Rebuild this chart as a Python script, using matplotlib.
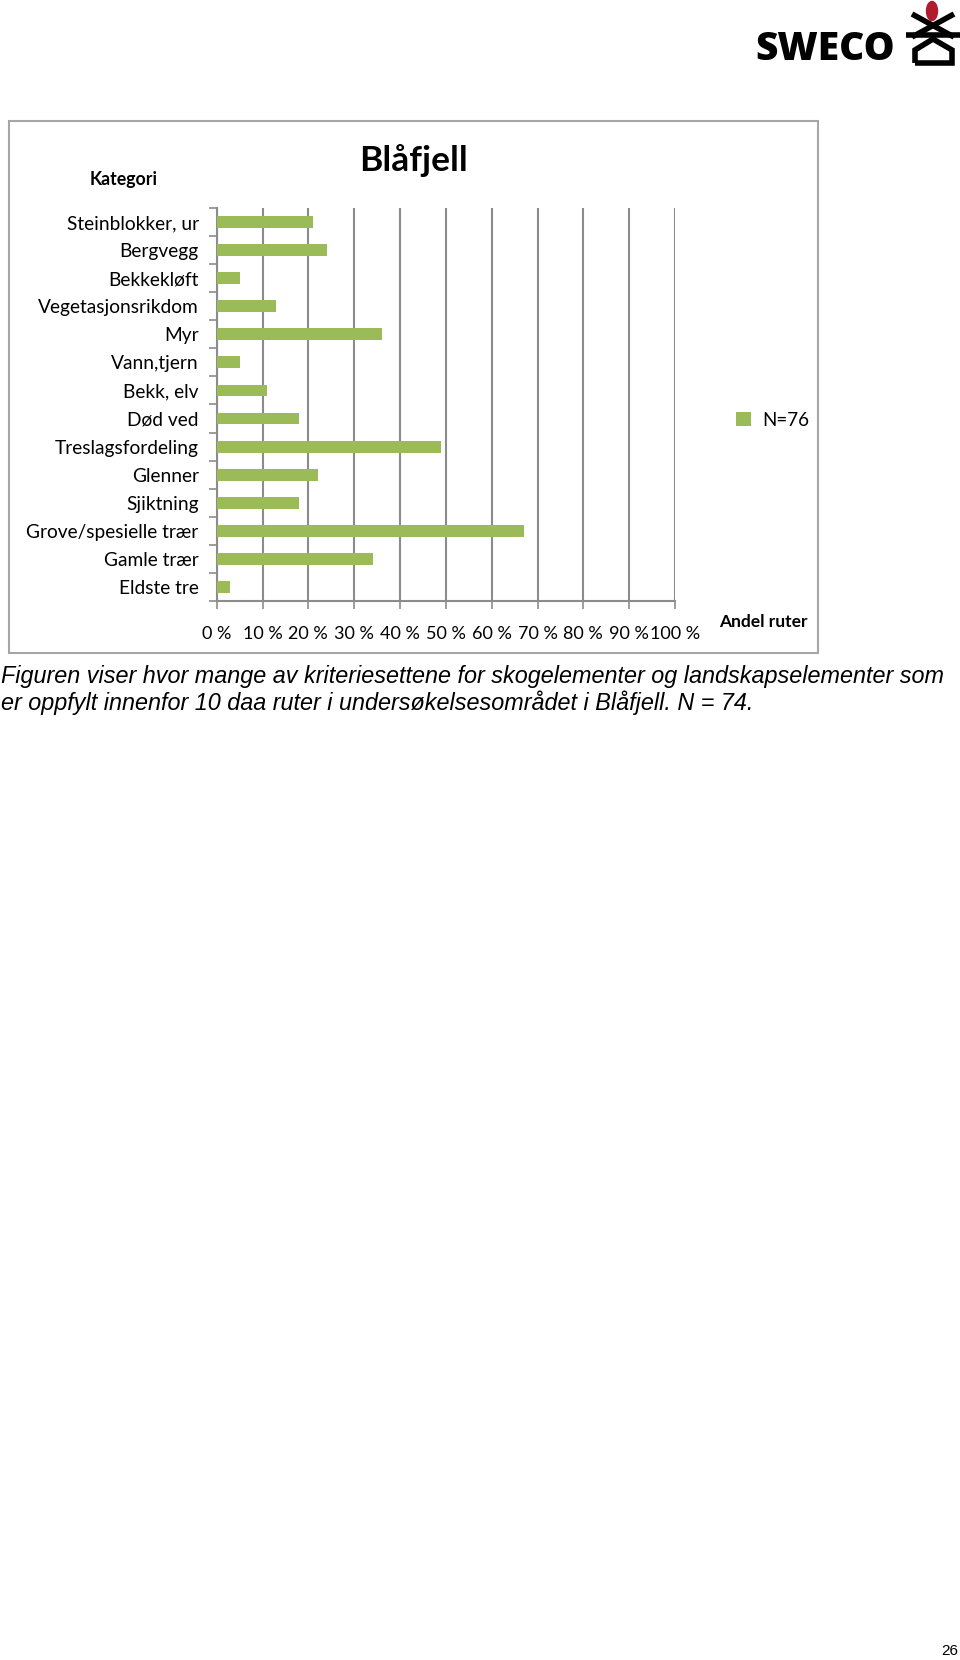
import matplotlib
matplotlib.use("Agg")
import matplotlib.pyplot as plt
from matplotlib.patches import Rectangle, Circle
from matplotlib.lines import Line2D

# data (share of 10 daa squares, %)
categories = ['Steinblokker, ur', 'Bergvegg', 'Bekkekløft', 'Vegetasjonsrikdom',
              'Myr', 'Vann,tjern', 'Bekk, elv', 'Død ved', 'Treslagsfordeling',
              'Glenner', 'Sjiktning', 'Grove/spesielle trær', 'Gamle trær', 'Eldste tre']
values = [21, 24, 5, 13, 36, 5, 11, 18, 49, 22, 18, 67, 34, 3]
xticks = [0, 10, 20, 30, 40, 50, 60, 70, 80, 90, 100]
xlabels = ['0 %', '10 %', '20 %', '30 %', '40 %', '50 %', '60 %', '70 %', '80 %', '90 %', '100 %']
series_label = 'N=76'

W, H = 960, 1660
GREEN = '#9BBB59'
GREY = '#8C8C8C'
UI = ['Lato', 'DejaVu Sans']


def fx(x):
    return x / W


def fy(y):
    return 1 - y / H


fig = plt.figure(figsize=(W / 100, H / 100), dpi=100)

# chart frame
fig.patches.append(Rectangle((fx(8.5), fy(653)), fx(818 - 8.5), (653 - 121) / H,
                             transform=fig.transFigure, fill=False,
                             edgecolor='#A6A6A6', linewidth=1.5))

ax = fig.add_axes([fx(216.7), fy(601), fx(675 - 216.7), (601 - 208) / H])
pos = list(range(len(categories)))
bars = ax.barh(pos, values, height=0.42, color=GREEN, label=series_label, zorder=3)
ax.set_xlim(0, 100)
ax.set_ylim(len(categories) - 0.5, -0.5)
ax.set_xticks(xticks)
ax.set_xticklabels(xlabels, fontfamily=UI, fontsize=13)
ax.set_yticks(pos)
ax.set_yticklabels(categories, fontfamily=UI, fontsize=13.8)
ax.set_yticks([p - 0.5 for p in pos] + [len(categories) - 0.5], minor=True)
ax.tick_params(axis='y', which='major', length=0, pad=13)
ax.tick_params(axis='y', which='minor', length=6, color=GREY, width=1.2, direction='out')
ax.tick_params(axis='x', length=6, color=GREY, width=1.2, pad=12)
ax.grid(axis='x', color=GREY, linewidth=1.5, zorder=0)
for s in ['top', 'right']:
    ax.spines[s].set_visible(False)
for s in ['left', 'bottom']:
    ax.spines[s].set_color(GREY)
    ax.spines[s].set_linewidth(1.5)

# legend
fig.legend(handles=[bars], labels=[series_label], loc='center left',
           bbox_to_anchor=(fx(719), fy(420)), frameon=False,
           prop={'family': UI, 'size': 13.5}, handlelength=0.8, handleheight=0.8,
           handletextpad=0.6)

fig.text(fx(413), fy(161), 'Blåfjell', ha='center', va='center',
         fontsize=25.5, fontweight='bold', family=UI)
fig.text(fx(124), fy(179), 'Kategori', ha='center', va='center',
         fontsize=12.8, fontweight='bold', family=UI)
fig.text(fx(763), fy(622), 'Andel ruter', ha='center', va='center',
         fontsize=12.5, fontweight='bold', family=UI)

cap = ['Liberation Sans Narrow', 'Liberation Sans', 'DejaVu Sans']
fig.text(fx(1), fy(676), 'Figuren viser hvor mange av kriteriesettene for skogelementer og '
         'landskapselementer som', ha='left', va='center', fontsize=16.8,
         style='italic', family=cap)
fig.text(fx(1), fy(703), 'er oppfylt innenfor 10 daa ruter i undersøkelsesområdet i '
         'Blåfjell. N = 74.', ha='left', va='center', fontsize=16.8,
         style='italic', family=cap)

fig.text(fx(958), fy(1651), '26', ha='right', va='center', fontsize=11,
         family=['Liberation Sans', 'DejaVu Sans'])

# SWECO logo
fig.text(fx(755), fy(50), 'SWECO', ha='left', va='center', fontsize=28,
         fontweight='heavy', family=['Open Sans', 'DejaVu Sans'])
for xs, ys in [([912, 954], [14, 37]), ([954, 912], [14, 37]),
               ([906, 960], [35, 35]),
               ([915, 915, 933, 952, 952, 915], [63, 50, 39, 50, 63, 63])]:
    fig.lines.append(Line2D([fx(x) for x in xs], [fy(y) for y in ys],
                            transform=fig.transFigure, color='black',
                            linewidth=4, solid_capstyle='butt',
                            solid_joinstyle='miter'))
fig.patches.append(Circle((fx(932), fy(11)), 5.5 / W, transform=fig.transFigure,
                          color='#B01C2E'))

fig.savefig('out.png', dpi=100)
